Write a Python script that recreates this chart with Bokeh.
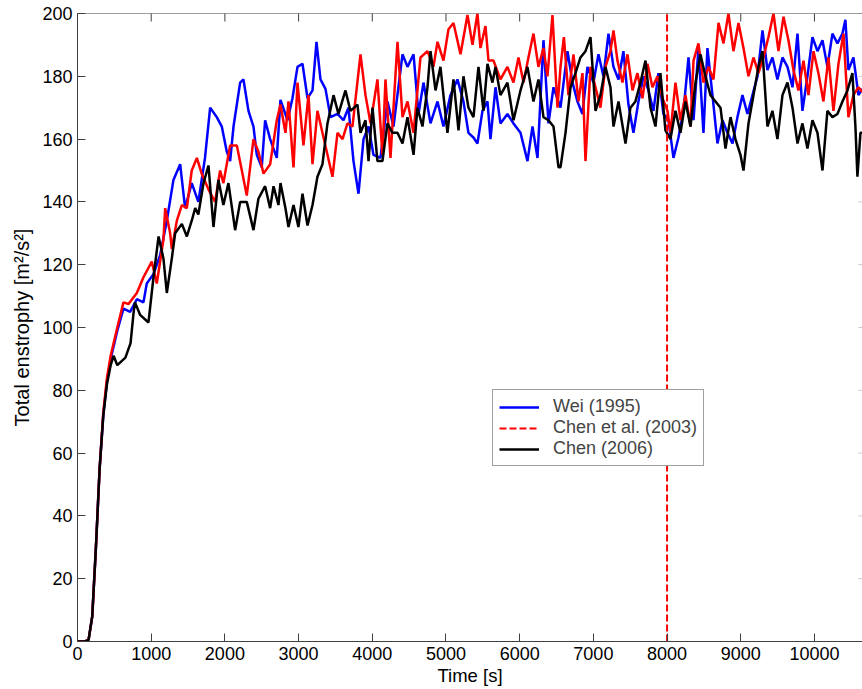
import math
from bokeh.plotting import figure
from bokeh.models import Range1d, Legend, LegendItem, FixedTicker, Span
from bokeh.embed import file_html
from bokeh.resources import INLINE

# ---------------- data ----------------
wei_time = [0, 100, 150, 200, 250, 300, 350, 400, 450,
            540, 624, 714, 805, 895, 940, 1031, 1121, 1212, 1302,
            1393, 1460, 1550, 1640, 1730, 1800, 1890, 1958, 2026, 2071,
            2117, 2207, 2252, 2320, 2388, 2433, 2500, 2546, 2614, 2704,
            2754, 2850, 2917, 2985, 3053, 3121, 3189, 3243, 3297, 3365,
            3433, 3528, 3609, 3677, 3745, 3813, 3881, 3949, 4016, 4111,
            4206, 4288, 4410, 4478, 4560, 4627, 4695, 4790, 4885, 4966,
            5061, 5156, 5237, 5305, 5373, 5427, 5495, 5563, 5604, 5672,
            5739, 5834, 5916, 6011, 6106, 6174, 6242, 6323, 6391, 6459,
            6554, 6649, 6717, 6784, 6852, 6920, 7001, 7069, 7137, 7205,
            7273, 7341, 7408, 7476, 7544, 7612, 7680, 7748, 7815, 7883,
            7951, 8019, 8087, 8155, 8223, 8291, 8359, 8426, 8494, 8548,
            8616, 8684, 8752, 8820, 8888, 8955, 9023, 9091, 9159, 9227,
            9295, 9362, 9430, 9498, 9566, 9634, 9702, 9770, 9837, 9905,
            9973, 10041, 10109, 10176, 10244, 10312, 10380, 10420, 10461, 10529,
            10597, 10650]
wei_value = [0, 0, 0.5, 8, 30, 55, 72, 83, 90,
             99, 106, 105, 109, 108, 114, 117, 123, 134, 147,
             152, 138, 146, 140, 154, 170, 167, 164, 156, 153,
             164, 178, 179, 169, 164, 155, 151, 166, 160, 154,
             172.5, 166, 173, 183, 184, 173, 175.5, 191, 179, 176,
             167, 168, 166, 170, 153, 142.6, 160, 164, 155, 154,
             172, 164, 187, 183, 187, 168, 178, 165, 172, 164,
             174, 179, 172, 162, 160.5, 158.6, 169, 172, 160, 176.5,
             165, 168, 165, 162, 153, 164, 154, 191.5, 165, 176.5,
             170, 188, 178, 172, 168, 183, 178, 187, 180, 193.6,
             183, 179, 188, 171, 162, 172, 180, 175.5, 169, 181,
             168, 166, 154, 160.5, 169, 186, 166, 189, 162, 189,
             174, 158.6, 166, 162, 158.6, 167, 174, 168, 174, 180,
             194.6, 182, 186, 179, 186, 183, 176.5, 193.6, 169, 180,
             192.5, 188, 191.5, 183, 193.6, 190.5, 193.6, 198, 182, 186,
             174, 176]

chen2003_time = [0, 100, 150, 200, 250, 300, 350, 400, 450,
                 540, 624, 692, 805, 895, 1008, 1076, 1166, 1190, 1257,
                 1280, 1348, 1416, 1484, 1550, 1620, 1685, 1777, 1867, 1935,
                 1980, 2071, 2162, 2230, 2297, 2388, 2455, 2524, 2614, 2704,
                 2754, 2822, 2863, 2931, 2985, 3066, 3134, 3189, 3256, 3324,
                 3460, 3528, 3596, 3663, 3731, 3840, 3908, 3976, 4070, 4138,
                 4179, 4247, 4342, 4410, 4478, 4560, 4654, 4749, 4830, 4885,
                 4966, 5034, 5102, 5197, 5292, 5360, 5427, 5468, 5536, 5577,
                 5645, 5739, 5834, 5916, 5984, 6052, 6119, 6187, 6255, 6323,
                 6377, 6445, 6513,
                 6554, 6600, 6662, 6730, 6798, 6852, 6893, 6961, 7029, 7096,
                 7164, 7232, 7273, 7327, 7395, 7463, 7531, 7598, 7666, 7734,
                 7802, 7870, 7938, 8006, 8046, 8114, 8182, 8250, 8318, 8359,
                 8426, 8494, 8562, 8630, 8698, 8766, 8833, 8901, 8969, 9037,
                 9105, 9173, 9240, 9308, 9376, 9444, 9512, 9580, 9647, 9715,
                 9783, 9851, 9919, 9987, 10054, 10122, 10190, 10258, 10326, 10394,
                 10461, 10529, 10597, 10650]
chen2003_value = [0, 0, 0.5, 8, 30, 55, 73, 84, 91,
                  100, 108, 107.5, 111, 116, 121, 114, 128, 138, 130,
                  125, 134, 139, 138, 150, 154, 149, 144, 140, 150,
                  146, 158, 158, 150, 142, 160, 156, 149, 152, 166,
                  171, 162, 172, 151, 178, 158, 174, 152, 169, 162,
                  148, 162, 160, 165, 164, 187, 174, 165, 179, 155,
                  179, 154, 191, 167, 172, 162, 186, 188, 183, 191,
                  185, 195, 197, 187, 199.5, 190, 200, 189, 196, 185,
                  185, 179, 183, 178, 186, 178, 186, 193.6, 183, 189,
                  180, 199.5, 170,
                  183, 192.5, 174, 187, 172, 181, 153, 183, 176.5, 170,
                  183, 188, 194.6, 185, 178, 187, 175.5, 181, 173, 184,
                  176.5, 180, 173, 169, 162, 178, 166, 174, 164, 185,
                  190.5, 178, 183, 179, 197, 190.5, 200, 188, 197, 189,
                  180, 186, 181, 186, 192.5, 200, 188, 199, 191.5, 182,
                  175.5, 185, 174, 188, 181, 172, 186, 169, 184, 193.6,
                  167, 174, 176.5, 175]

chen2006_time = [0, 100, 150, 200, 250, 300, 350, 400, 450, 490,
                 540, 650, 720, 760, 780, 850, 963, 1031, 1100, 1166,
                 1212, 1280, 1325, 1416, 1484, 1550, 1597, 1640, 1710, 1777,
                 1845, 1912, 1980, 2048, 2139, 2207, 2297, 2388, 2455, 2546,
                 2614, 2660, 2727,
                 2754, 2822, 2863, 2931, 2998, 3053, 3121, 3189, 3256, 3324,
                 3392, 3474, 3541, 3636, 3704, 3799, 3840, 3908, 3949, 4003,
                 4070, 4138, 4206, 4274, 4342, 4410, 4478, 4560, 4613, 4681,
                 4749, 4790, 4858, 4925, 5020, 5102, 5170, 5237, 5305, 5373,
                 5441, 5509, 5563, 5631, 5672, 5739, 5834, 5916, 6011, 6106,
                 6187, 6255, 6323, 6391, 6459, 6527,
                 6554, 6622, 6690, 6757, 6825, 6893, 6961, 7029, 7096, 7164,
                 7232, 7273, 7341, 7436, 7503, 7571, 7639, 7707, 7775, 7843,
                 7910, 7978, 8046, 8114, 8182, 8250, 8318, 8386, 8453, 8521,
                 8589, 8657, 8725, 8793, 8861, 8928, 8996, 9037, 9105, 9173,
                 9240, 9295, 9362, 9430, 9498, 9566, 9634, 9702, 9770, 9837,
                 9905, 9973, 10041, 10109, 10176, 10244, 10312, 10380, 10448, 10515,
                 10556, 10583, 10624, 10650]
chen2006_value = [0, 0, 0.5, 8, 30, 55, 72, 82, 88, 91,
                  88, 90.4, 95, 104.5, 108, 104, 101.6, 116, 129, 122,
                  111, 122, 130, 133, 129, 134, 138, 136, 146, 151.6,
                  132, 147, 139, 146, 131, 140, 140, 131, 141, 145,
                  138, 145, 139,
                  146, 138, 132, 139, 132, 142.6, 132.5, 139, 148, 152,
                  165, 174, 168, 175.5, 169, 171, 162, 166, 153, 170,
                  153, 153, 165, 162, 162, 158.6, 167, 155, 170, 164,
                  176.5, 188, 175.5, 183, 162, 179, 162.8, 180, 170, 167,
                  183, 169, 184, 178, 183, 174, 178, 166, 175.5, 183,
                  172, 179, 167, 166, 164, 151,
                  151, 162, 176.5, 181, 186, 188, 192.5, 169, 174, 183,
                  176.5, 164, 172, 158.6, 170, 172, 178, 185, 170, 164,
                  181, 162.8, 160, 169, 162, 172, 164, 178, 187, 180,
                  174, 172, 170, 157, 167, 160, 155, 150, 165, 174,
                  183, 188, 164, 169, 160, 174, 178, 170, 158.6, 165,
                  157, 166, 162, 150, 169, 167, 168, 172, 175.5, 181,
                  164, 148, 162, 162]

marker_time = 8000            # dashed vertical line
x_ticks = [0, 1000, 2000, 3000, 4000, 5000, 6000, 7000, 8000, 9000, 10000]
y_ticks = [0, 20, 40, 60, 80, 100, 120, 140, 160, 180, 200]
x_start, x_end = 0, 10652
y_start, y_end = 0, 200

labels = ["Wei (1995)", "Chen et al. (2003)", "Chen (2006)"]

# ---------------- figure ----------------
FONT = "Liberation Sans"
AX = "#404040"

p = figure(width=862, height=689, output_backend="svg", toolbar_location=None,
           x_range=Range1d(x_start, x_end), y_range=Range1d(y_start, y_end),
           x_axis_label="Time [s]", y_axis_label="Total enstrophy [m²/s²]",
           min_border_left=77, min_border_top=13, min_border_right=0,
           min_border_bottom=48)
p.outline_line_color = None
p.grid.visible = False
p.background_fill_color = "white"
p.border_fill_color = "white"

p.xaxis.ticker = FixedTicker(ticks=x_ticks)
p.yaxis.ticker = FixedTicker(ticks=y_ticks)

for ax in p.axis:
    ax.major_tick_in = 8
    ax.major_tick_out = 0
    ax.minor_tick_in = 0
    ax.minor_tick_out = 0
    ax.axis_line_color = AX
    ax.major_tick_line_color = AX
    ax.major_label_text_font = FONT
    ax.major_label_text_font_size = "18px"
    ax.major_label_text_color = "black"
    ax.axis_label_text_font = FONT
    ax.axis_label_text_font_style = "normal"
    ax.axis_label_text_color = "black"

p.xaxis.major_label_standoff = 5
p.xaxis.axis_label_standoff = 2
p.xaxis.axis_label_text_font_size = "18.5px"
p.yaxis.major_label_standoff = 5
p.yaxis.axis_label_standoff = 6
p.yaxis.axis_label_text_font_size = "20px"

# box top edge with inward ticks, and the right-hand ticks at the edge
p.add_layout(Span(location=y_end, dimension="width", line_color=AX, line_width=1))
p.scatter(x_ticks, [y_end] * len(x_ticks), marker="dash", angle=math.pi / 2,
          size=16, line_color=AX, line_width=1)
p.scatter([x_end] * len(y_ticks), y_ticks, marker="dash", size=8,
          line_color="#c8c8c8", line_width=1)

r_wei = p.line(wei_time, wei_value, line_color="#0000ff", line_width=2.5)
r_c03 = p.line(chen2003_time, chen2003_value, line_color="#ff0000", line_width=2.5)
r_c06 = p.line(chen2006_time, chen2006_value, line_color="#000000", line_width=2.5)
r_v = p.line([marker_time, marker_time], [y_start, y_end], line_color="#ff0000",
             line_width=2, line_dash="7 3")

legend = Legend(items=[LegendItem(label=labels[0], renderers=[r_wei]),
                       LegendItem(label=labels[1], renderers=[r_v]),
                       LegendItem(label=labels[2], renderers=[r_c06])],
                location=(415, 175))
legend.border_line_color = AX
legend.border_line_width = 1
legend.background_fill_color = "white"
legend.background_fill_alpha = 1
legend.label_text_font = FONT
legend.label_text_font_size = "18px"
legend.glyph_width = 40
legend.glyph_height = 20
legend.label_height = 20
legend.label_standoff = 14
legend.padding = 6
legend.spacing = 0
legend.margin = 0
p.add_layout(legend)

open("out.html", "w").write(file_html(p, INLINE))
